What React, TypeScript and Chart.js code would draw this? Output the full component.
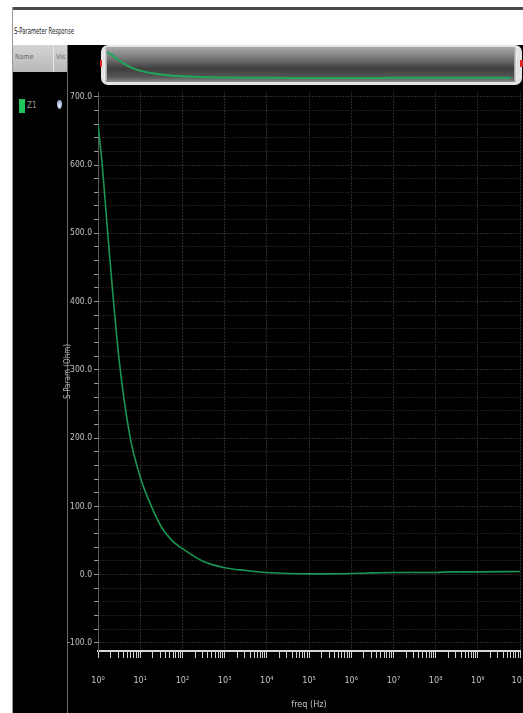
import React, { useEffect, useRef } from "react";
import { Chart, registerables } from "chart.js";

Chart.register(...registerables);

// ---- data ----
const freqHz = [1, 1.26, 1.78, 3.16, 5.62, 10, 17.8, 31.6, 56.2, 100, 316, 1000, 3160, 1e4, 3.16e4, 1e5, 3.16e5, 1e6, 3.16e6, 1e7, 1e8, 2.2e8, 1e9, 1e10];
const sParamValues = [660, 600, 485, 315, 205, 143, 102, 70, 50, 38, 19, 10, 6, 3, 1.5, 1, 1, 1.5, 2.5, 3, 3, 4, 4, 4.5];

const yMajorTicks = [-100, 0, 100, 200, 300, 400, 500, 600, 700];
const yTickLabels = ["-100.0", "0.0", "100.0", "200.0", "300.0", "400.0", "500.0", "600.0", "700.0"];
const xDecades = [1, 10, 100, 1e3, 1e4, 1e5, 1e6, 1e7, 1e8, 1e9, 1e10];
const xTickLabels = ["10⁰", "10¹", "10²", "10³", "10⁴", "10⁵", "10⁶", "10⁷", "10⁸", "10⁹", "10¹⁰"];

const seriesName = "Z1";
const chartTitle = "S-Parameter Response";
const xTitle = "freq (Hz)";
const yTitle = "S-Param (Ohm)";

const FONT = "'Liberation Sans Narrow', 'DejaVu Sans Condensed', 'Liberation Sans', sans-serif";
const GREEN = "#1a9652";

const yMinorTicks: number[] = [];
for (let v = -100; v <= 700; v += 20) yMinorTicks.push(v);
const xAllTicks: number[] = [];
xDecades.forEach((d, i) => {
  xAllTicks.push(d);
  if (i < xDecades.length - 1) for (let k = 2; k <= 9; k++) xAllTicks.push(Number((k * d).toPrecision(3)));
});

const mantissa = (v: number) => v / Math.pow(10, Math.floor(Math.log10(v) + 1e-9));

export default function App() {
  const mainRef = useRef<HTMLCanvasElement>(null);
  const miniRef = useRef<HTMLCanvasElement>(null);

  useEffect(() => {
    const points = freqHz.map((f, i) => ({ x: f, y: sParamValues[i] }));
    const main = new Chart(mainRef.current!, {
      type: "line",
      data: {
        datasets: [
          {
            label: seriesName,
            data: points,
            borderColor: GREEN,
            borderWidth: 1.6,
            pointRadius: 0,
            fill: false,
            cubicInterpolationMode: "monotone",
          },
        ],
      },
      options: {
        animation: false,
        responsive: false,
        devicePixelRatio: 1,
        layout: { padding: { top: 6, right: 3, left: 0, bottom: 0 } },
        plugins: { legend: { display: false }, tooltip: { enabled: false } },
        scales: {
          x: {
            type: "logarithmic",
            min: 1,
            max: 1e10,
            afterBuildTicks: (axis: any) => {
              axis.ticks = xAllTicks.map((v) => ({ value: v }));
            },
            afterFit: (axis: any) => {
              axis.height = 62;
              axis.paddingLeft = 0;
              axis.paddingRight = 0;
            },
            ticks: {
              autoSkip: false,
              maxRotation: 0,
              minRotation: 0,
              padding: 17,
              color: "#c4c4c4",
              font: { family: FONT, size: 9 },
              callback: (value: any) => {
                const idx = xDecades.findIndex((d) => Math.abs(d - Number(value)) / d < 1e-6);
                return idx >= 0 ? xTickLabels[idx] : "";
              },
            },
            grid: {
              drawOnChartArea: true,
              tickLength: 7,
              tickColor: "#cfcfcf",
              tickWidth: 1,
              color: (ctx: any) => {
                const v = ctx.tick ? ctx.tick.value : 1;
                const m = mantissa(v);
                if (Math.abs(m - 1) < 1e-6) return "#2a2a2a";
                return "rgba(0,0,0,0)";
              },
            },
            border: { display: true, color: "#d6d6d6", width: 2, dash: [2, 1] },
            title: {
              display: true,
              text: xTitle,
              color: "#c4c4c4",
              font: { family: FONT, size: 9 },
              padding: { top: 0, bottom: 3 },
            },
          },
          y: {
            type: "linear",
            min: -112,
            max: 707,
            afterBuildTicks: (axis: any) => {
              axis.ticks = yMinorTicks.map((v) => ({ value: v }));
            },
            afterFit: (axis: any) => {
              axis.width = 35;
              axis.paddingTop = 0;
              axis.paddingBottom = 0;
            },
            ticks: {
              autoSkip: false,
              padding: 2,
              color: "#c4c4c4",
              font: { family: FONT, size: 8.5 },
              callback: (value: any) => {
                const idx = yMajorTicks.indexOf(Number(value));
                return idx >= 0 ? yTickLabels[idx] : "";
              },
            },
            grid: {
              drawOnChartArea: true,
              tickLength: 4,
              tickColor: "#9a9a9a",
              color: (ctx: any) => {
                const v = ctx.tick ? ctx.tick.value : 1;
                return yMajorTicks.includes(v) ? "#2a2a2a" : "#1c1c1c";
              },
            },
            border: { display: true, color: "#5a5a5a", width: 1, dash: [2, 1] },
            title: {
              display: true,
              text: yTitle,
              color: "#b0b0b0",
              font: { family: FONT, size: 8 },
              padding: { top: 0, bottom: 0 },
            },
          },
        },
      },
    } as any);

    const mini = new Chart(miniRef.current!, {
      type: "line",
      data: {
        datasets: [
          {
            data: points,
            borderColor: "#1fa85c",
            borderWidth: 2,
            pointRadius: 0,
            fill: false,
            cubicInterpolationMode: "monotone",
          },
        ],
      },
      options: {
        animation: false,
        responsive: false,
        devicePixelRatio: 1,
        layout: { padding: 0 },
        plugins: { legend: { display: false }, tooltip: { enabled: false } },
        scales: {
          x: { type: "logarithmic", min: 1, max: 1e10, display: false },
          y: { type: "linear", min: -51, max: 711, display: false },
        },
      },
    } as any);

    return () => {
      main.destroy();
      mini.destroy();
    };
  }, []);

  const abs = (l: number, t: number, w: number, h: number, extra: React.CSSProperties = {}): React.CSSProperties => ({
    position: "absolute",
    left: l,
    top: t,
    width: w,
    height: h,
    ...extra,
  });

  return (
    <div style={{ position: "absolute", left: 0, top: 0, width: 523, height: 713, overflow: "hidden", background: "#ffffff", fontFamily: FONT }}>
      {/* top frame line */}
      <div style={abs(13, 7, 510, 3, { background: "#4a4a4a" })} />
      {/* left border */}
      <div style={abs(12, 7, 1, 706, { background: "#9a9a9a" })} />
      {/* title */}
      <div
        style={abs(14, 24, 120, 14, {
          fontSize: 9.5,
          color: "#1a1a1a",
          whiteSpace: "nowrap",
          transform: "scaleX(0.62)",
          transformOrigin: "left center",
          lineHeight: "14px",
        })}
      >
        {chartTitle}
      </div>
      {/* legend panel header */}
      <div style={abs(13, 45, 54, 27, { background: "linear-gradient(#d4d4d4, #b8b8b8)" })} />
      <div style={abs(53, 45, 1, 27, { background: "#e6e6e6" })} />
      <div style={abs(15, 52, 30, 10, { fontSize: 7, color: "#6a6a6a", lineHeight: "10px" })}>Name</div>
      <div style={abs(56, 52, 12, 10, { fontSize: 7, color: "#6a6a6a", lineHeight: "10px" })}>Vis</div>
      {/* legend panel body */}
      <div style={abs(13, 72, 54, 641, { background: "#000" })} />
      <div style={abs(19, 99, 6, 14, { background: "#21c35c" })} />
      <div style={abs(27, 100, 20, 12, { fontSize: 8, color: "#9a9a9a", lineHeight: "12px" })}>{seriesName}</div>
      <div style={abs(57, 100, 5, 9, { background: "radial-gradient(circle at 50% 60%, #dfe8ff, #7d8fc0)", borderRadius: "50% 50% 50% 50% / 40% 40% 60% 60%" })} />
      {/* main black area */}
      <div style={abs(67, 45, 456, 668, { background: "#000" })} />
      <div style={abs(67, 45, 1, 668, { background: "#6a6a6a" })} />
      {/* overview strip */}
      <div style={abs(101, 45, 421, 40, { background: "#e4e4e4", borderRadius: 7 })} />
      <div
        style={abs(104, 47, 413, 35, {
          background: "linear-gradient(#a9a9a9 0%, #7a7a7a 30%, #3e3e3e 62%, #565656 86%, #8c8c8c 100%)",
          borderRadius: 4,
        })}
      />
      <div style={abs(104, 48, 3, 33, { background: "linear-gradient(90deg, #fafafa, #9a9a9a)", borderRadius: 2 })} />
      <div style={abs(514, 48, 3, 33, { background: "linear-gradient(90deg, #9a9a9a, #fafafa)", borderRadius: 2 })} />
      <div style={abs(100, 60, 2, 7, { background: "#e02525" })} />
      <div style={abs(520, 60, 3, 7, { background: "#e02525" })} />
      <canvas ref={miniRef} width={404} height={30} style={abs(107, 50, 404, 30)} />
      {/* main chart */}
      <canvas ref={mainRef} width={460} height={627} style={abs(63, 86, 460, 627)} />
    </div>
  );
}
